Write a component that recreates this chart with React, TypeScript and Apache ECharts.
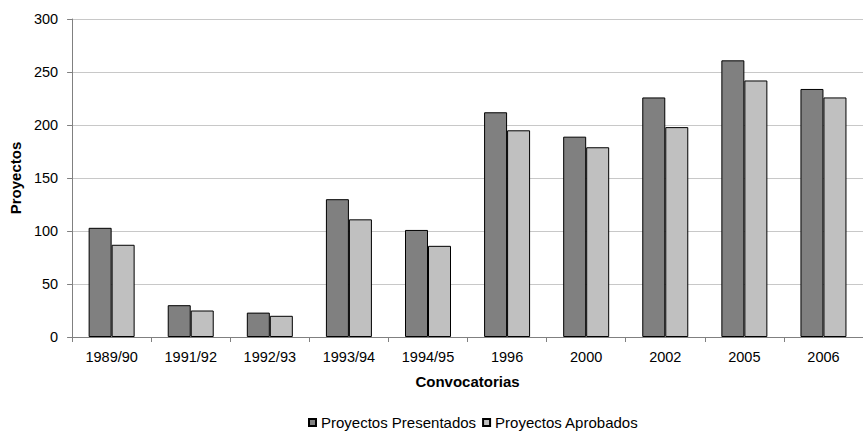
import React, { useEffect, useRef } from "react";
import * as echarts from "echarts";

const categories = ["1989/90", "1991/92", "1992/93", "1993/94", "1994/95", "1996", "2000", "2002", "2005", "2006"];
const presentados = [103, 30, 23, 130, 101, 212, 189, 226, 261, 234];
const aprobados = [87, 25, 20, 111, 86, 195, 179, 198, 242, 226];
const seriesNames = ["Proyectos Presentados", "Proyectos Aprobados"];
const yTicks = { min: 0, max: 300, interval: 50 };

const FONT = "'Liberation Sans', Arial, sans-serif";

export default function App() {
  const ref = useRef<HTMLDivElement>(null);
  useEffect(() => {
    document.body.style.margin = "0";
    const chart = echarts.init(ref.current!, undefined, { renderer: "svg" });
    chart.setOption({
      animation: false,
      backgroundColor: "#ffffff",
      textStyle: { fontFamily: FONT },
      grid: { left: 72, top: 19, width: 798, height: 318, containLabel: false },
      legend: {
        data: seriesNames,
        left: 303,
        top: 410,
        itemWidth: 7,
        itemHeight: 7,
        itemGap: 6,
        icon: "rect",
        textStyle: { fontFamily: FONT, fontSize: 15, color: "#000", padding: [0, 0, 0, 0] },
      },
      xAxis: {
        type: "category",
        data: categories,
        name: "Convocatorias",
        nameLocation: "middle",
        nameGap: 37,
        nameTextStyle: { fontFamily: FONT, fontSize: 15, fontWeight: "bold", color: "#000" },
        axisLine: { lineStyle: { color: "#808080", width: 1 } },
        axisTick: { show: true, length: 5, lineStyle: { color: "#808080" } },
        axisLabel: { fontFamily: FONT, fontSize: 14.5, color: "#000", margin: 12, interval: 0 },
        splitLine: { show: false },
      },
      yAxis: {
        type: "value",
        min: yTicks.min,
        max: yTicks.max,
        interval: yTicks.interval,
        name: "Proyectos",
        nameLocation: "middle",
        nameRotate: 90,
        nameGap: 48,
        nameTextStyle: { fontFamily: FONT, fontSize: 15, fontWeight: "bold", color: "#000" },
        axisLine: { show: true, lineStyle: { color: "#808080", width: 1 } },
        axisTick: { show: true, length: 5, lineStyle: { color: "#808080" } },
        axisLabel: { fontFamily: FONT, fontSize: 14.5, color: "#000", margin: 14 },
        splitLine: { show: true, lineStyle: { color: "#c8c8c8", width: 1 } },
      },
      series: [
        {
          name: seriesNames[0],
          type: "bar",
          data: presentados,
          barWidth: 23,
          barGap: "0%",
          itemStyle: { color: "#808080", borderColor: "#000", borderWidth: 1 },
        },
        {
          name: seriesNames[1],
          type: "bar",
          data: aprobados,
          barWidth: 23,
          barGap: "0%",
          itemStyle: { color: "#c0c0c0", borderColor: "#000", borderWidth: 1 },
        },
      ],
    });
    return () => chart.dispose();
  }, []);
  return <div ref={ref} style={{ width: 863, height: 431, position: "absolute", left: 0, top: 0 }} />;
}
